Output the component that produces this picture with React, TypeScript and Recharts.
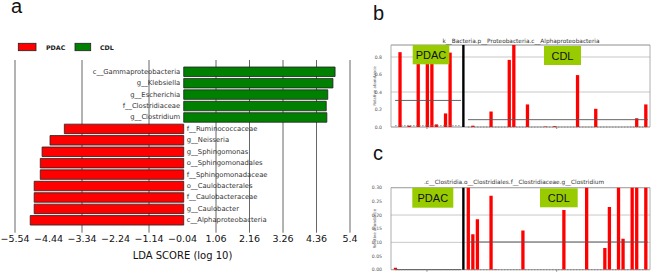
import React from 'react';
import {Bar, BarChart, CartesianGrid, Cell, ReferenceArea, ReferenceLine, XAxis, YAxis} from 'recharts';

// panel a: LEfSe LDA scores (positive = CDL, negative = PDAC)
const ldaTaxa = [
    'c__Gammaproteobacteria',
    'g__Klebsiella',
    'g__Escherichia',
    'f__Clostridiaceae',
    'g__Clostridium',
    'f__Ruminococcaceae',
    'g__Neisseria',
    'g__Sphingomonas',
    'o__Sphingomonadales',
    'f__Sphingomonadaceae',
    'o__Caulobacterales',
    'f__Caulobacteraceae',
    'g__Caulobacter',
    'c__Alphaproteobacteria',
];
const ldaScores = [4.97, 4.9, 4.73, 4.68, 4.7, -3.92, -4.39, -4.65, -4.71, -4.71, -4.91, -4.91, -4.91, -5.04];
const ldaTicks = [-5.54, -4.44, -3.34, -2.24, -1.14, -0.04, 1.06, 2.16, 3.26, 4.36, 5.46];
const groupNames = ['PDAC', 'CDL'];
const groupColors = ['#ff0000', '#008000'];

// panels b, c: relative abundance per sample
const pdacAlpha = [0, 0.855, 0, 0.015, 0, 0.92, 0, 0.85, 0.88, 0.03, 0, 0.155, 0.85, 0, 0];
const cdlAlpha = [0, 0.015, 0, 0, 0, 0.177, 0, 0, 0, 0.767, 0.96, 0, 0, 0.258, 0, 0, 0, 0.005, 0, 0.01,
    0, 0, 0, 0, 0.593, 0, 0, 0, 0.208, 0, 0, 0, 0, 0, 0, 0, 0, 0.1, 0, 0.258];
const pdacClost = [0.007, 0, 0, 0, 0, 0, 0, 0, 0, 0, 0, 0, 0, 0, 0];
const cdlClost = [0.45, 0.13, 0.185, 0, 0, 0.271, 0.002, 0, 0, 0, 0, 0, 0.143, 0, 0, 0, 0, 0, 0, 0,
    0, 0.218, 0, 0, 0, 0, 0.44, 0, 0, 0, 0.079, 0.229, 0, 0.52, 0.113, 0, 0.41, 0.47, 0, 0.4];
const alphaTicks = [0, 0.2, 0.4, 0.6, 0.8];
const clostTicks = [0, 0.05, 0.1, 0.15, 0.2, 0.25, 0.3];

const PDAC_START = -1;
const CDL_START = 15;
const SEPARATOR = 14;

const ldaData = ldaTaxa.map((taxon, i) => ({taxon, score: ldaScores[i]}));

const fmtLda = (v: number) => {
    if (v === 5.46) return '5.4';
    return (v < 0 ? '\u2212' : '') + Math.abs(v).toFixed(2);
};

const mean = (arr: number[]) => arr.reduce((a, b) => a + b, 0) / arr.length;
const median = (arr: number[]) => {
    const s = [...arr].sort((a, b) => a - b);
    const m = Math.floor(s.length / 2);
    return s.length % 2 ? s[m] : (s[m - 1] + s[m]) / 2;
};

const renderTaxonLabel = (props: any) => {
    const {x, y, width, height, index} = props;
    const score = ldaScores[index];
    const zero = score >= 0 ? Math.min(x, x + width) : Math.max(x, x + width);
    return (
        <text
            x={score >= 0 ? zero - 3.5 : zero + 3}
            y={y + height / 2}
            textAnchor={score >= 0 ? 'end' : 'start'}
            dominantBaseline="central"
            fontSize={6.8}
            fontFamily="DejaVu Sans"
            fill="#333"
        >
            {ldaTaxa[index]}
        </text>
    );
};

const LdaPanel = () => (
    <BarChart
        width={360}
        height={273}
        layout="vertical"
        data={ldaData}
        margin={{top: 60, right: 10, left: 15, bottom: 10}}
        barCategoryGap={0}
    >
        <CartesianGrid horizontal={false} stroke="#555" strokeWidth={0.9}/>
        <XAxis
            type="number"
            domain={[-5.54, 5.46]}
            ticks={ldaTicks}
            tickFormatter={fmtLda}
            axisLine={false}
            tickLine={false}
            tickSize={2}
            tickMargin={1}
            height={30.3}
            tick={{fontSize: 9.5, fill: '#111', fontFamily: 'DejaVu Sans'}}
            label={{
                value: 'LDA SCORE (log 10)',
                position: 'insideBottom',
                offset: 4,
                fontSize: 10,
                fill: '#111',
                fontFamily: 'DejaVu Sans',
            }}
        />
        <YAxis type="category" dataKey="taxon" hide padding={{top: 6, bottom: 6.7}}/>
        <Bar
            dataKey="score"
            barSize={9.5}
            stroke="#222"
            strokeWidth={0.8}
            isAnimationActive={false}
            label={renderTaxonLabel}
        >
            {ldaData.map((d, i) => (
                <Cell key={`lda-${i}`} fill={d.score < 0 ? groupColors[0] : groupColors[1]}/>
            ))}
        </Bar>
    </BarChart>
);

type AbundanceProps = {
    pdac: number[];
    cdl: number[];
    yMax: number;
    ticks: number[];
    digits: number;
    height: number;
    top: number;
    bottom: number;
};

const AbundancePanel = ({pdac, cdl, yMax, ticks, digits, height, top, bottom}: AbundanceProps) => {
    const data = [
        ...pdac.map((v, i) => ({sample: PDAC_START + i, value: v})),
        ...cdl.map((v, i) => ({sample: CDL_START + i, value: v})),
    ];
    const pdacEnd = PDAC_START + pdac.length - 1;
    const cdlEnd = CDL_START + cdl.length - 1;
    const groups = [
        {from: PDAC_START, to: pdacEnd + 0.5, values: pdac},
        {from: CDL_START, to: cdlEnd + 0.5, values: cdl},
    ];
    const xDomain = [PDAC_START - 0.9, cdlEnd + 1];
    return (
        <BarChart
            width={309}
            height={height}
            data={data}
            margin={{top, right: 19, left: 13, bottom: 0}}
        >
            <CartesianGrid vertical={false} stroke="#bbb" strokeWidth={0.8}/>
            <XAxis
                type="number"
                dataKey="sample"
                domain={xDomain}
                ticks={[(PDAC_START + pdacEnd) / 2, (CDL_START + cdlEnd) / 2]}
                tickFormatter={() => ''}
                axisLine={false}
                tickSize={2}
                tickLine={{stroke: '#888'}}
                height={bottom}
                allowDataOverflow
            />
            <YAxis
                type="number"
                domain={[0, yMax]}
                ticks={ticks}
                tickFormatter={(v: number) => v.toFixed(digits)}
                allowDataOverflow
                axisLine={false}
                tickLine={false}
                tickMargin={3}
                width={18}
                tick={{fontSize: 4.6, fill: '#555', fontFamily: 'DejaVu Sans'}}
                label={{
                    value: 'Relative abundance',
                    angle: -90,
                    position: 'insideLeft',
                    offset: 2,
                    fontSize: 4,
                    fill: '#555',
                    fontFamily: 'DejaVu Sans',
                    style: {textAnchor: 'middle'},
                }}
            />
            <ReferenceArea x1={xDomain[0]} x2={xDomain[1]} y1={0} y2={yMax} fill="none" stroke="#999" strokeWidth={0.8}/>
            <Bar dataKey="value" fill="#ff0000" barSize={3.3} isAnimationActive={false}/>
            {groups.map((g, i) => (
                <ReferenceLine
                    key={`mean-${i}`}
                    segment={[{x: g.from, y: mean(g.values)}, {x: g.to, y: mean(g.values)}]}
                    stroke="#555"
                    strokeWidth={0.9}
                />
            ))}
            {groups.map((g, i) => (
                <ReferenceLine
                    key={`median-${i}`}
                    segment={[{x: g.from, y: median(g.values)}, {x: g.to, y: median(g.values)}]}
                    stroke="#777"
                    strokeWidth={0.8}
                    strokeDasharray="1.5 1.5"
                />
            ))}
            <ReferenceLine x={SEPARATOR} stroke="#000" strokeWidth={2.4}/>
        </BarChart>
    );
};

const GroupBox = ({x, y, w, h, text}: {x: number; y: number; w: number; h: number; text: string}) => (
    <g>
        <rect x={x} y={y} width={w} height={h} fill="#99cc00"/>
        <text
            x={x + w / 2}
            y={y + h / 2 + 0.5}
            textAnchor="middle"
            dominantBaseline="central"
            fontSize={11}
            fontFamily="Liberation Sans"
            fill="#111"
        >
            {text}
        </text>
    </g>
);

const App = () => {
    return (
        <div style={{position: 'relative', width: 669, height: 273, overflow: 'hidden', background: '#fff'}}>
            <style>{'body{margin:0}'}</style>
            <div style={{position: 'absolute', left: 0, top: 0}}>
                <LdaPanel/>
            </div>
            <div style={{position: 'absolute', left: 360, top: 0}}>
                <AbundancePanel pdac={pdacAlpha} cdl={cdlAlpha} yMax={0.937} ticks={alphaTicks} digits={1}
                                height={135} top={45} bottom={8}/>
            </div>
            <div style={{position: 'absolute', left: 360, top: 140}}>
                <AbundancePanel pdac={pdacClost} cdl={cdlClost} yMax={0.3} ticks={clostTicks} digits={2}
                                height={133} top={47.7} bottom={3.3}/>
            </div>
            <svg width={669} height={273} style={{position: 'absolute', left: 0, top: 0, pointerEvents: 'none'}}>
                <g fontFamily="Liberation Sans" fontSize={20} fill="#111">
                    <text x={11} y={13}>a</text>
                    <text x={373} y={20}>b</text>
                    <text x={373} y={160}>c</text>
                </g>
                <rect x={18.3} y={43.3} width={17.7} height={7.4} fill={groupColors[0]} stroke="#222" strokeWidth={0.8}/>
                <text x={46} y={49.7} fontSize={6.3} fontWeight="bold" fontFamily="DejaVu Sans" fill="#222">
                    {groupNames[0]}
                </text>
                <rect x={75} y={43.3} width={15.7} height={7.4} fill={groupColors[1]} stroke="#222" strokeWidth={0.8}/>
                <text x={100} y={49.7} fontSize={6.3} fontWeight="bold" fontFamily="DejaVu Sans" fill="#222">
                    {groupNames[1]}
                </text>
                <g fontFamily="DejaVu Sans" fontSize={5.8} fill="#333" textAnchor="middle">
                    <text x={521} y={43}>k__Bacteria.p__Proteobacteria.c__Alphaproteobacteria</text>
                    <text x={514} y={183.7}>.c__Clostridia.o__Clostridiales.f__Clostridiaceae.g__Clostridium</text>
                </g>
                <GroupBox x={412.7} y={45} w={36.6} h={19.3} text={groupNames[0]}/>
                <GroupBox x={544} y={46} w={37} h={19} text={groupNames[1]}/>
                <GroupBox x={412.3} y={187.7} w={41} h={20} text={groupNames[0]}/>
                <GroupBox x={540} y={188.3} w={37.7} h={19} text={groupNames[1]}/>
            </svg>
        </div>
    );
};

export default App;
